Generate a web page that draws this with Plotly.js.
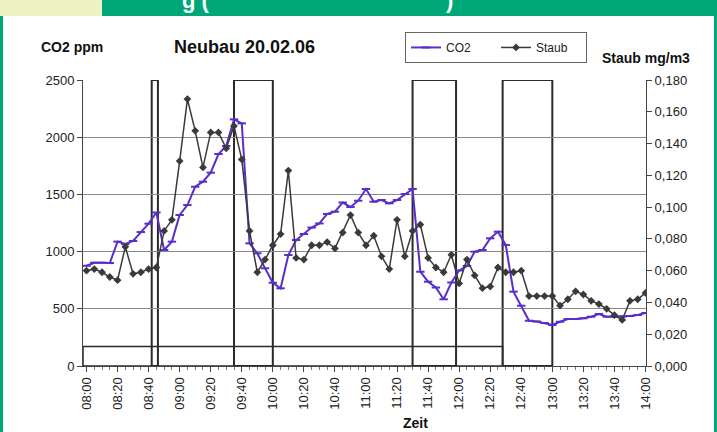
<!DOCTYPE html>
<html>
<head>
<meta charset="utf-8">
<script src="https://cdn.plot.ly/plotly-3.0.1.min.js"></script>
<style>
  body { margin: 0; background: #fff; }
  #wrap { position: relative; width: 717px; height: 432px; overflow: hidden; }
  #graph { position: absolute; left: 0; top: 0; width: 717px; height: 432px; }
  .frame { position: absolute; z-index: 10; }
  #band { left: 0; top: 0; width: 717px; height: 16px; background: #00a776; overflow: hidden; }
  #corner { left: 0; top: 0; width: 102px; height: 16px; background: #eef3c6; }
  #lline { left: 0; top: 16px; width: 3px; height: 416px; background: #00a776; }
  #rline { left: 714px; top: 16px; width: 3px; height: 416px; background: #00a776; }
  .cut { position: absolute; top: -10px; color: #fff; font: bold 22px/22px "Liberation Sans", Arial, sans-serif; white-space: pre; }
</style>
</head>
<body>
<div id="wrap">
  <div id="graph"></div>
  <div class="frame" id="band">
    <span class="cut" style="left:182px">g (</span>
    <span class="cut" style="left:446px">)</span>
  </div>
  <div class="frame" id="corner"></div>
  <div class="frame" id="lline"></div>
  <div class="frame" id="rline"></div>
</div>
<script>
// Messzeiten (5-Minuten-Takt)
const times = [
    '08:00', '08:05', '08:10', '08:15', '08:20', '08:25', '08:30', '08:35', '08:40', '08:45',
    '08:50', '08:55', '09:00', '09:05', '09:10', '09:15', '09:20', '09:25', '09:30', '09:35',
    '09:40', '09:45', '09:50', '09:55', '10:00', '10:05', '10:10', '10:15', '10:20', '10:25',
    '10:30', '10:35', '10:40', '10:45', '10:50', '10:55', '11:00', '11:05', '11:10', '11:15',
    '11:20', '11:25', '11:30', '11:35', '11:40', '11:45', '11:50', '11:55', '12:00', '12:05',
    '12:10', '12:15', '12:20', '12:25', '12:30', '12:35', '12:40', '12:45', '12:50', '12:55',
    '13:00', '13:05', '13:10', '13:15', '13:20', '13:25', '13:30', '13:35', '13:40', '13:45',
    '13:50', '13:55', '14:00'
];

// CO2 in ppm
const co2 = [
    876, 903, 903, 900, 1087, 1066, 1093, 1171, 1244, 1342,
    1014, 1087, 1320, 1407, 1567, 1611, 1690, 1853, 1923, 2156,
    2121, 1072, 985, 854, 728, 679, 970, 1101, 1154, 1210,
    1246, 1329, 1349, 1429, 1390, 1445, 1547, 1436, 1451, 1422,
    1451, 1503, 1547, 824, 737, 686, 583, 730, 835, 874,
    999, 1014, 1116, 1174, 1058, 650, 527, 396, 389, 376,
    358, 387, 411, 411, 417, 431, 455, 431, 431, 431,
    437, 446, 463
];

// Staub in mg/m3
const staub = [
    0.060, 0.061, 0.059, 0.056, 0.054, 0.075, 0.058, 0.059, 0.061, 0.062,
    0.085, 0.092, 0.129, 0.168, 0.148, 0.125, 0.147, 0.147, 0.137, 0.151,
    0.130, 0.085, 0.059, 0.067, 0.076, 0.083, 0.123, 0.068, 0.067, 0.076,
    0.076, 0.078, 0.074, 0.084, 0.095, 0.084, 0.076, 0.082, 0.069, 0.061,
    0.092, 0.069, 0.085, 0.089, 0.068, 0.062, 0.059, 0.070, 0.052, 0.067,
    0.057, 0.049, 0.050, 0.062, 0.059, 0.059, 0.060, 0.044, 0.044, 0.044,
    0.044, 0.038, 0.042, 0.047, 0.045, 0.041, 0.039, 0.036, 0.032, 0.029,
    0.041, 0.042, 0.046
];

// Zeitfenster (Rahmen im Diagramm)
const periodStart = ['08:42', '09:35', '11:30', '12:28'];
const periodEnd = ['08:46', '10:00', '11:58', '13:00'];

const day = '2006-02-20 ';
const font = 'Liberation Sans, Arial, sans-serif';

function drawGraph() {
    const x = times.map(t => day + t);

    const co2Trace = {
        x: x,
        y: co2,
        name: 'CO2',
        mode: 'lines+markers',
        line: {color: '#5a2ec8', width: 2},
        marker: {symbol: 'line-ew', size: 6, line: {color: '#5a2ec8', width: 2}},
    };

    const staubTrace = {
        x: x,
        y: staub,
        name: 'Staub',
        yaxis: 'y2',
        mode: 'lines+markers',
        line: {color: '#3a3a3a', width: 1.5},
        marker: {symbol: 'diamond', size: 6, color: '#3a3a3a'},
    };

    let shapes = periodStart.map((s, i) => ({
        type: 'rect',
        xref: 'x', yref: 'y',
        x0: day + s, x1: day + periodEnd[i],
        y0: 0, y1: 2500,
        line: {color: '#2a2a2a', width: 2},
        layer: 'below',
    }));
    shapes.push({
        type: 'rect',
        xref: 'x', yref: 'y',
        x0: day + '07:57:45', x1: day + periodStart[3],
        y0: 0, y1: 170,
        line: {color: '#2a2a2a', width: 1.5},
        layer: 'below',
    });

    const titleFont = {family: font, size: 14, color: '#111'};

    const layout = {
        width: 717,
        height: 432,
        margin: {l: 83, r: 71, t: 80, b: 66},
        paper_bgcolor: 'rgba(0,0,0,0)',
        plot_bgcolor: '#fff',
        separators: ',.',
        font: {family: font, size: 13, color: '#222'},
        xaxis: {
            type: 'date',
            range: [day + '07:57:45', day + '14:00:20'],
            tick0: day + '08:00',
            dtick: 20 * 60 * 1000,
            tickformat: '%H:%M',
            tickangle: -90,
            ticks: 'outside',
            ticklen: 5,
            tickcolor: '#444',
            showline: true,
            linecolor: '#444',
            showgrid: false,
            zeroline: false,
            minor: {dtick: 5 * 60 * 1000, ticks: 'outside', ticklen: 3, tickcolor: '#777', showgrid: false},
        },
        yaxis: {
            range: [0, 2500],
            dtick: 500,
            ticks: 'outside',
            ticklen: 5,
            tickcolor: '#444',
            showline: true,
            linecolor: '#444',
            gridcolor: '#8a8a8a',
            zeroline: false,
        },
        yaxis2: {
            overlaying: 'y',
            side: 'right',
            range: [0, 0.18],
            dtick: 0.02,
            tickformat: '.3f',
            ticks: 'outside',
            ticklen: 5,
            tickcolor: '#444',
            showline: true,
            linecolor: '#444',
            showgrid: false,
            zeroline: false,
        },
        shapes: shapes,
        showlegend: true,
        legend: {
            orientation: 'h',
            x: 0.572, y: 1.168,
            xanchor: 'left', yanchor: 'top',
            entrywidth: 45,
            bgcolor: '#fff',
            bordercolor: '#666',
            borderwidth: 1,
            font: {family: font, size: 12, color: '#222'},
        },
        annotations: [
            {text: '<b>CO2 ppm</b>', xref: 'paper', yref: 'paper', x: -0.02, y: 1.115,
             xanchor: 'center', yanchor: 'middle', showarrow: false, font: titleFont},
            {text: '<b>Neubau 20.02.06</b>', xref: 'paper', yref: 'paper', x: 0.286, y: 1.115,
             xanchor: 'center', yanchor: 'middle', showarrow: false,
             font: {family: font, size: 18, color: '#111'}},
            {text: '<b>Staub mg/m3</b>', xref: 'paper', yref: 'paper', x: 1.0, y: 1.077,
             xanchor: 'center', yanchor: 'middle', showarrow: false, font: titleFont},
            {text: '<b>Zeit</b>', xref: 'paper', yref: 'paper', x: 0.59, y: -0.2,
             xanchor: 'center', yanchor: 'middle', showarrow: false, font: titleFont},
        ],
    };

    const config = {displayModeBar: false, staticPlot: true};

    Plotly.newPlot('graph', [co2Trace, staubTrace], layout, config);
}

drawGraph();
</script>
</body>
</html>
